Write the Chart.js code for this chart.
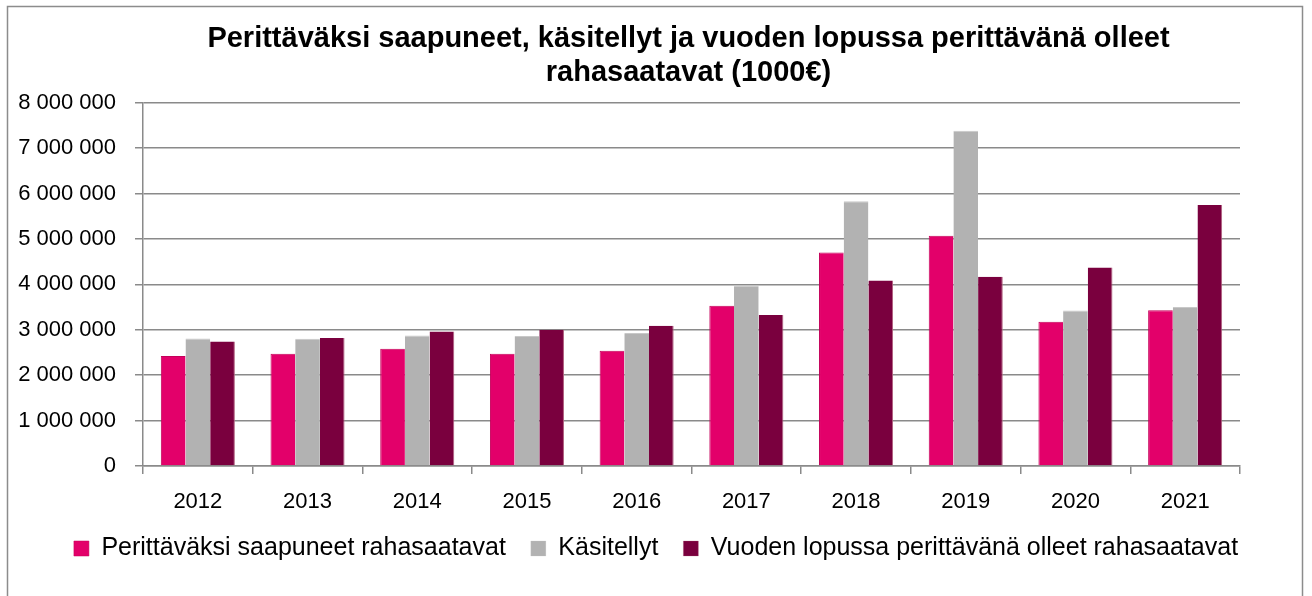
<!DOCTYPE html>
<html lang="fi">
<head>
  <meta charset="UTF-8">
  <title>Perittäväksi saapuneet rahasaatavat</title>
  <style>
    body { margin: 0; padding: 0; background: #ffffff; }
    #wrap { width: 1312px; height: 596px; }
  </style>
</head>
<body>
  <div id="wrap"><canvas id="chart" width="1312" height="596"></canvas></div>

  <script src="https://cdn.jsdelivr.net/npm/chart.js"></script>
  <script>
    // Data (1000 €)
    const years = ['2012', '2013', '2014', '2015', '2016', '2017', '2018', '2019', '2020', '2021'];
    const saapuneet = [2420000, 2470000, 2580000, 2470000, 2540000, 3530000, 4700000, 5070000, 3175000, 3430000];
    const kasitellyt = [2810000, 2800000, 2875000, 2860000, 2930000, 3970000, 5830000, 7380000, 3425000, 3500000];
    const lopussa = [2740000, 2820000, 2960000, 3000000, 3090000, 3325000, 4085000, 4170000, 4370000, 5750000];

    const titleLines = ['Perittäväksi saapuneet, käsitellyt ja vuoden lopussa perittävänä olleet', 'rahasaatavat (1000€)'];
    const seriesNames = ['Perittäväksi saapuneet rahasaatavat', 'Käsitellyt', 'Vuoden lopussa perittävänä olleet rahasaatavat'];

    const FONT = '"Liberation Sans", Arial, sans-serif';
    const GRID = '#8a8a8a';
    const PAD = 8;          // outer padding left / right
    const PLOT_LEFT = 143;  // where the value axis sits
    const PLOT_RIGHT = 1240;

    // thousands with spaces: 8 000 000
    function fmt(v) {
      return String(v).replace(/\B(?=(\d{3})+(?!\d))/g, ' ');
    }

    // frame round the whole chart + title over the plot area
    const frameAndTitle = {
      id: 'frameAndTitle',
      beforeDraw(chart) {
        const ctx = chart.ctx;
        ctx.save();
        ctx.fillStyle = '#ffffff';
        ctx.fillRect(0, 0, chart.width, chart.height);
        ctx.strokeStyle = '#8c8c8c';
        ctx.lineWidth = 1.5;
        ctx.strokeRect(7.5, 6.5, 1295, 600);
        ctx.restore();
      },
      afterDraw(chart) {
        const ctx = chart.ctx;
        const a = chart.chartArea;
        const cx = (a.left + a.right) / 2 - 3;
        ctx.save();
        ctx.fillStyle = '#000000';
        ctx.font = 'bold 29px ' + FONT;
        ctx.textAlign = 'center';
        ctx.textBaseline = 'middle';
        ctx.fillText(titleLines[0], cx, 39);
        ctx.fillText(titleLines[1], cx, 73);
        ctx.restore();
      }
    };

    new Chart(document.getElementById('chart'), {
      type: 'bar',
      data: {
        labels: years,
        datasets: [
          { label: seriesNames[0], data: saapuneet, backgroundColor: '#e3006a', borderColor: '#c4005a', borderWidth: { top: 1, left: 1 } },
          { label: seriesNames[1], data: kasitellyt, backgroundColor: '#b2b2b2', borderColor: '#c8c8c8', borderWidth: { top: 1 } },
          { label: seriesNames[2], data: lopussa, backgroundColor: '#7a003e', borderColor: '#b0607f', borderWidth: { right: 1 } }
        ]
      },
      plugins: [frameAndTitle],
      options: {
        responsive: false,
        animation: false,
        devicePixelRatio: 1,
        layout: { padding: { left: PAD, right: PAD, top: 102.7, bottom: 25 } },
        datasets: { bar: { categoryPercentage: 0.675, barPercentage: 1.0 } },
        plugins: {
          title: { display: false },
          tooltip: { enabled: false },
          legend: {
            position: 'bottom',
            labels: {
              font: { family: FONT, size: 25 },
              color: '#000000',
              boxWidth: 15,
              boxHeight: 15,
              padding: 25
            }
          }
        },
        scales: {
          x: {
            offset: true,
            grid: { offset: true, drawOnChartArea: false, drawTicks: true, tickLength: 8, color: GRID, lineWidth: 1.5 },
            border: { color: GRID, width: 1.5 },
            ticks: { font: { family: FONT, size: 22 }, color: '#000000', padding: 15, maxRotation: 0 },
            afterFit(scale) { scale.height = 45; }
          },
          y: {
            min: 0,
            max: 8000000,
            grid: { color: GRID, lineWidth: 1.5, tickLength: 8 },
            border: { color: GRID, width: 1.5 },
            ticks: {
              stepSize: 1000000,
              font: { family: FONT, size: 22 },
              color: '#000000',
              padding: 19,
              callback: v => fmt(v)
            },
            afterFit(scale) { scale.width = PLOT_LEFT - PAD; }
          },
          // empty right-hand axis, only keeps the plot clear of the right edge
          yRight: {
            position: 'right',
            grid: { display: false },
            border: { display: false },
            ticks: { display: false },
            afterFit(scale) { scale.width = 1312 - PAD - PLOT_RIGHT; }
          }
        }
      }
    });
  </script>
</body>
</html>
